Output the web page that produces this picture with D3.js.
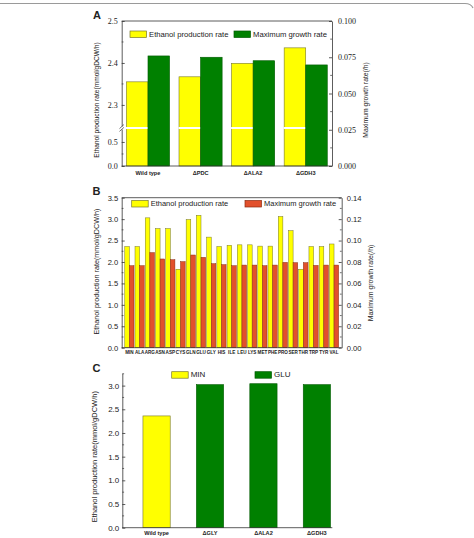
<!DOCTYPE html>
<html>
<head>
<meta charset="utf-8">
<script src="https://cdn.jsdelivr.net/npm/d3@7"></script>
<style>
    body { margin: 0; background: #fff; }
    svg { display: block; }
    text { fill: #222; }
    .axis path, .axis line { stroke: #333; stroke-width: 0.8; }
</style>
</head>
<body>
<div id="chart"></div>
<script>
// Data
var groupsA = ["Wild type", "\u0394PDC", "\u0394ALA2", "\u0394GDH3"];
var ethanolA = [2.355, 2.367, 2.399, 2.436];
var growthA = [0.0759, 0.0750, 0.0726, 0.0697];

var aminoB = ["MIN", "ALA", "ARG", "ASN", "ASP", "CYS", "GLN", "GLU", "GLY", "HIS", "ILE",
    "LEU", "LYS", "MET", "PHE", "PRO", "SER", "THR", "TRP", "TYR", "VAL"];
var ethanolB = [2.36, 2.36, 3.03, 2.78, 2.78, 1.83, 2.99, 3.09, 2.58, 2.36, 2.39,
    2.40, 2.40, 2.37, 2.37, 3.06, 2.73, 1.83, 2.36, 2.36, 2.42];
var growthB = [0.0765, 0.0765, 0.0887, 0.0828, 0.0821, 0.0803, 0.0865, 0.0843, 0.0784, 0.0775, 0.0765,
    0.0771, 0.0771, 0.0765, 0.0771, 0.0796, 0.0793, 0.0793, 0.0768, 0.0771, 0.0771];

var groupsC = ["Wild type", "\u0394GLY", "\u0394ALA2", "\u0394GDH3"];
var ethanolC = [2.36, 3.02, 3.04, 3.02];
var mediumC = ["MIN", "GLU", "GLU", "GLU"];

// Colors
var yellow = "#ffff00", yellowLine = "#77772a";
var green = "#008000", greenLine = "#005a00";
var red = "#e2502c", redLine = "#8a2a10";

var svg = d3.select("#chart")
    .append("svg")
    .attr("width", 474)
    .attr("height", 538);

svg.append("rect").attr("width", 474).attr("height", 538).attr("fill", "#fff");

// frame line on top
svg.append("path")
    .attr("d", "M0,3.5 L465,3.5 Q471,3.5 473,8")
    .attr("fill", "none")
    .attr("stroke", "#9a9a9a")
    .attr("stroke-width", 1.2);

function panelLetter(t, x, y) {
    svg.append("text").attr("x", x).attr("y", y)
        .attr("font-family", "Liberation Sans, Arial, sans-serif")
        .attr("font-size", 11).attr("font-weight", "bold")
        .text(t);
}

function vTitle(t, x, y, size) {
    svg.append("text")
        .attr("transform", `translate(${x},${y}) rotate(-90)`)
        .attr("text-anchor", "middle")
        .attr("dominant-baseline", "middle")
        .attr("font-family", "Liberation Sans, Arial, sans-serif")
        .attr("font-size", size)
        .text(t);
}

function legendItem(x, y, fill, stroke, label, size) {
    svg.append("rect").attr("x", x).attr("y", y).attr("width", 16.5).attr("height", 6.5)
        .attr("fill", fill).attr("stroke", stroke).attr("stroke-width", 0.7);
    svg.append("text").attr("x", x + 19).attr("y", y + 3.5)
        .attr("dominant-baseline", "middle")
        .attr("font-family", "Liberation Sans, Arial, sans-serif")
        .attr("font-size", size)
        .text(label);
}

function minorTicks(g, scale, values, x, dir, len) {
    g.selectAll(null).data(values).enter().append("line")
        .attr("x1", x).attr("x2", x + dir * len)
        .attr("y1", d => scale(d)).attr("y2", d => scale(d))
        .attr("stroke", "#333").attr("stroke-width", 0.7);
}

// ---------------- Panel A ----------------
var A = { left: 121.7, right: 332, top: 21, bottom: 166, brk: 128 };

var xA = d3.scaleBand().domain(groupsA).range([A.left, A.right])
    .paddingInner(0.18).paddingOuter(0.09);
var x1A = d3.scaleBand().domain(["eth", "gro"]).range([0, xA.bandwidth()]);

// broken axis: 0 - 0.79 below the break, 2.245 - 2.5 above
var yA = d3.scaleLinear().domain([0, 0.79, 2.245, 2.5]).range([A.bottom, A.brk, A.brk, A.top]);
var yA2 = d3.scaleLinear().domain([0, 0.1]).range([A.bottom, A.top]);

var gA = svg.append("g");

gA.selectAll(".ethA").data(ethanolA).enter().append("rect")
    .attr("x", (d, i) => xA(groupsA[i]) + x1A("eth"))
    .attr("y", d => yA(d))
    .attr("width", x1A.bandwidth())
    .attr("height", d => A.bottom - yA(d))
    .attr("fill", yellow).attr("stroke", yellowLine).attr("stroke-width", 0.6);

// white gap across the broken bars
gA.selectAll(".gapA").data(ethanolA).enter().append("rect")
    .attr("x", (d, i) => xA(groupsA[i]) + x1A("eth") - 0.5)
    .attr("y", A.brk - 1)
    .attr("width", x1A.bandwidth() + 1)
    .attr("height", 2)
    .attr("fill", "#fff");

gA.selectAll(".groA").data(growthA).enter().append("rect")
    .attr("x", (d, i) => xA(groupsA[i]) + x1A("gro"))
    .attr("y", d => yA2(d))
    .attr("width", x1A.bandwidth())
    .attr("height", d => A.bottom - yA2(d))
    .attr("fill", green).attr("stroke", greenLine).attr("stroke-width", 0.6);

var axLA = gA.append("g").attr("class", "axis")
    .attr("transform", `translate(${A.left},0)`)
    .call(d3.axisLeft(yA).tickValues([0, 0.5, 2.3, 2.4, 2.5]).tickFormat(d3.format(".1f"))
        .tickSize(-3).tickSizeOuter(0).tickPadding(4));
axLA.selectAll("text").attr("font-family", "Liberation Serif, Times New Roman, serif").attr("font-size", 8);
minorTicks(gA, yA, [0.25, 2.35, 2.45], A.left, 1, 1.8);

var axRA = gA.append("g").attr("class", "axis")
    .attr("transform", `translate(${A.right},0)`)
    .call(d3.axisRight(yA2).tickValues([0, 0.025, 0.05, 0.075, 0.1]).tickFormat(d3.format(".3f"))
        .tickSize(-3).tickSizeOuter(0).tickPadding(6));
axRA.selectAll("text").attr("font-family", "Liberation Serif, Times New Roman, serif").attr("font-size", 8);
minorTicks(gA, yA2, [0.0125, 0.0375, 0.0625, 0.0875], A.right, -1, 1.8);

var axBA = gA.append("g").attr("class", "axis")
    .attr("transform", `translate(0,${A.bottom})`)
    .call(d3.axisBottom(xA).tickSize(0).tickPadding(4.8));
axBA.select(".domain").attr("d", `M${A.left},0H${A.right}`);
axBA.selectAll("text").attr("font-family", "Liberation Sans, Arial, sans-serif")
    .attr("font-size", 5.6).attr("font-weight", "bold");

gA.append("line").attr("x1", A.left).attr("x2", A.right).attr("y1", A.top).attr("y2", A.top)
    .attr("stroke", "#333").attr("stroke-width", 0.8);

// axis break marks
gA.append("rect").attr("x", A.left - 2).attr("y", A.brk - 1.5).attr("width", 4).attr("height", 3).attr("fill", "#fff");
[-1.4, 1.4].forEach(function (o) {
    gA.append("line")
        .attr("x1", A.left - 2.2).attr("y1", A.brk + o + 2)
        .attr("x2", A.left + 2.2).attr("y2", A.brk + o - 2)
        .attr("stroke", "#333").attr("stroke-width", 0.7);
});

legendItem(130, 31, yellow, yellowLine, "Ethanol production rate", 7.7);
legendItem(234, 31, green, greenLine, "Maximum growth rate", 7.7);

panelLetter("A", 93, 18.5);
vTitle("Ethanol production rate(mmol/gDCW/h)", 97.5, 100, 6.6);
vTitle("Maximum growth rate(/h)", 366.5, 100, 6.8);

// ---------------- Panel B ----------------
var B = { left: 121.7, right: 341.7, top: 197.7, bottom: 347.7 };

var xB = d3.scaleBand().domain(aminoB).range([B.left, B.right])
    .paddingInner(0.1).paddingOuter(0.3);
var x1B = d3.scaleBand().domain(["eth", "gro"]).range([0, xB.bandwidth()]);
var yB = d3.scaleLinear().domain([0, 3.5]).range([B.bottom, B.top]);
var yB2 = d3.scaleLinear().domain([0, 0.14]).range([B.bottom, B.top]);

var gB = svg.append("g");

gB.selectAll(".ethB").data(ethanolB).enter().append("rect")
    .attr("x", (d, i) => xB(aminoB[i]) + x1B("eth"))
    .attr("y", d => yB(d))
    .attr("width", x1B.bandwidth())
    .attr("height", d => B.bottom - yB(d))
    .attr("fill", yellow).attr("stroke", yellowLine).attr("stroke-width", 0.5);

gB.selectAll(".groB").data(growthB).enter().append("rect")
    .attr("x", (d, i) => xB(aminoB[i]) + x1B("gro"))
    .attr("y", d => yB2(d))
    .attr("width", x1B.bandwidth())
    .attr("height", d => B.bottom - yB2(d))
    .attr("fill", red).attr("stroke", redLine).attr("stroke-width", 0.5);

var axLB = gB.append("g").attr("class", "axis")
    .attr("transform", `translate(${B.left},0)`)
    .call(d3.axisLeft(yB).tickValues(d3.range(0, 3.51, 0.5)).tickFormat(d3.format(".1f"))
        .tickSize(-3).tickSizeOuter(0).tickPadding(3.5));
axLB.selectAll("text").attr("font-family", "Liberation Sans, Arial, sans-serif").attr("font-size", 7.6);
minorTicks(gB, yB, d3.range(0.25, 3.5, 0.5), B.left, 1, 1.8);

var axRB = gB.append("g").attr("class", "axis")
    .attr("transform", `translate(${B.right},0)`)
    .call(d3.axisRight(yB2).tickValues(d3.range(0, 0.141, 0.02)).tickFormat(d3.format(".2f"))
        .tickSize(-3).tickSizeOuter(0).tickPadding(5));
axRB.selectAll("text").attr("font-family", "Liberation Sans, Arial, sans-serif").attr("font-size", 7.6);
minorTicks(gB, yB2, d3.range(0.01, 0.14, 0.02), B.right, -1, 1.8);

var axBB = gB.append("g").attr("class", "axis")
    .attr("transform", `translate(0,${B.bottom})`)
    .call(d3.axisBottom(xB).tickSize(0).tickPadding(2.6));
axBB.select(".domain").attr("d", `M${B.left},0H${B.right}`);
axBB.selectAll("text").attr("font-family", "Liberation Sans, Arial, sans-serif")
    .attr("font-size", 4.6).attr("font-weight", "bold");

gB.append("line").attr("x1", B.left).attr("x2", B.right).attr("y1", B.top).attr("y2", B.top)
    .attr("stroke", "#333").attr("stroke-width", 0.8);

legendItem(131.7, 200.5, yellow, yellowLine, "Ethanol production rate", 7.5);
legendItem(245, 200.5, red, redLine, "Maximum growth rate", 7.5);

panelLetter("B", 92.5, 194.5);
vTitle("Ethanol production rate(mmol/gDCW/h)", 96.7, 271.5, 7.2);
vTitle("Maximum growth rate(/h)", 371.5, 283, 6.9);

// ---------------- Panel C ----------------
var C = { left: 122.3, right: 332.3, top: 373.3, bottom: 527.7 };

var xC = d3.scaleBand().domain(groupsC).range([C.left, C.right])
    .paddingInner(0.49).paddingOuter(0.21).align(0.92);
var yC = d3.scaleLinear().domain([0, 3.26]).range([C.bottom, C.top]);
var colorC = d3.scaleOrdinal().domain(["MIN", "GLU"]).range([yellow, green]);
var strokeC = d3.scaleOrdinal().domain(["MIN", "GLU"]).range([yellowLine, greenLine]);

var gC = svg.append("g");

gC.selectAll(".ethC").data(ethanolC).enter().append("rect")
    .attr("x", (d, i) => xC(groupsC[i]))
    .attr("y", d => yC(d))
    .attr("width", xC.bandwidth())
    .attr("height", d => C.bottom - yC(d))
    .attr("fill", (d, i) => colorC(mediumC[i]))
    .attr("stroke", (d, i) => strokeC(mediumC[i])).attr("stroke-width", 0.6);

var axLC = gC.append("g").attr("class", "axis")
    .attr("transform", `translate(${C.left},0)`)
    .call(d3.axisLeft(yC).tickValues(d3.range(0, 3.01, 0.5)).tickFormat(d3.format(".1f"))
        .tickSize(-3).tickSizeOuter(0).tickPadding(3));
axLC.selectAll("text").attr("font-family", "Liberation Sans, Arial, sans-serif").attr("font-size", 8);
minorTicks(gC, yC, d3.range(0.25, 3.26, 0.5), C.left, 1, 1.8);

var axBC = gC.append("g").attr("class", "axis")
    .attr("transform", `translate(0,${C.bottom})`)
    .call(d3.axisBottom(xC).tickSize(0).tickPadding(3.7));
axBC.select(".domain").attr("d", `M${C.left},0H${C.right}`);
axBC.selectAll("text").attr("font-family", "Liberation Sans, Arial, sans-serif")
    .attr("font-size", 5.6).attr("font-weight", "bold");

legendItem(171.7, 371.7, yellow, yellowLine, "MIN", 8);
legendItem(255, 371.7, green, greenLine, "GLU", 8);

panelLetter("C", 92.5, 371.5);
vTitle("Ethanol production rate(mmol/gDCW/h)", 95, 456.7, 7.5);
</script>
</body>
</html>
